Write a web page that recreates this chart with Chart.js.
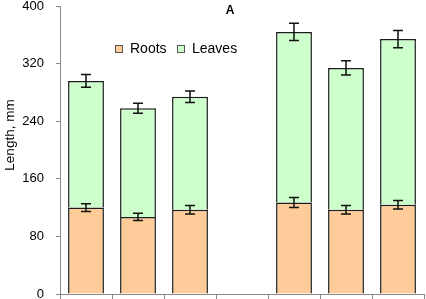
<!DOCTYPE html>
<html>
<head>
<meta charset="utf-8">
<script src="https://cdn.jsdelivr.net/npm/chart.js@4/dist/chart.umd.min.js"></script>
<style>
  html, body { margin: 0; padding: 0; background: #fff; }
  #wrap { width: 426px; height: 299px; }
</style>
</head>
<body>
<div id="wrap"><canvas id="chart"></canvas></div>
<script>
// Data
const groups = ['1', '2', '3', '4', '5', '6', '7'];
const roots = [120, 107, 117, 0, 127, 117, 124];
const leaves = [176, 151, 157, 0, 237, 197, 230];
const rootsErr = [5.5, 5, 6, 0, 7, 6, 6];
const totalErr = [9, 7, 8, 0, 12, 10, 12];
const yTicks = [0, 80, 160, 240, 320, 400];
const yTitle = 'Length, mm';

// Error bars for the top of each stack segment
const errorBars = {
    id: 'errorBars',
    afterDatasetsDraw(chart) {
        const ctx = chart.ctx;
        const y = chart.scales.y;
        ctx.save();
        ctx.strokeStyle = '#111';
        ctx.lineWidth = 1.5;
        chart.data.datasets.forEach((ds, di) => {
            const meta = chart.getDatasetMeta(di);
            meta.data.forEach((bar, i) => {
                const err = ds.errors[i];
                if (!err) return;
                let top = 0;
                for (let k = 0; k <= di; k++) top += chart.data.datasets[k].data[i];
                const yHi = y.getPixelForValue(top + err);
                const yLo = y.getPixelForValue(top - err);
                const x = bar.x;
                ctx.beginPath();
                ctx.moveTo(x, yHi); ctx.lineTo(x, yLo);
                ctx.moveTo(x - 5, yHi); ctx.lineTo(x + 5, yHi);
                ctx.moveTo(x - 5, yLo); ctx.lineTo(x + 5, yLo);
                ctx.stroke();
            });
        });
        ctx.restore();
    }
};

// Title "A", axis title and the legend sit where the original put them
const overlay = {
    id: 'overlay',
    afterDraw(chart) {
        const ctx = chart.ctx;
        ctx.save();
        ctx.fillStyle = '#000';
        ctx.font = 'bold 12px "Liberation Sans", Arial, sans-serif';
        ctx.textAlign = 'center';
        ctx.textBaseline = 'middle';
        ctx.fillText('A', 230, 11);

        ctx.save();
        ctx.translate(10, 135);
        ctx.rotate(-Math.PI / 2);
        ctx.font = '13.5px "Liberation Sans", Arial, sans-serif';
        ctx.fillText(yTitle, 0, 0);
        ctx.restore();

        ctx.font = '14px "Liberation Sans", Arial, sans-serif';
        ctx.textAlign = 'left';
        let x = 115;
        chart.data.datasets.forEach(ds => {
            ctx.fillStyle = ds.backgroundColor;
            ctx.fillRect(x, 45, 7, 7);
            ctx.strokeStyle = '#555';
            ctx.lineWidth = 1;
            ctx.strokeRect(x + 0.5, 45.5, 7, 7);
            ctx.fillStyle = '#000';
            ctx.fillText(ds.label, x + 15, 49);
            x += 62;
        });
        ctx.restore();
    }
};

new Chart(document.getElementById('chart'), {
    type: 'bar',
    data: {
        labels: groups,
        datasets: [
            {
                label: 'Roots',
                data: roots,
                errors: rootsErr,
                backgroundColor: '#FFCC99',
                borderColor: '#1c1c1c',
                borderWidth: 1.5,
                borderSkipped: 'start',
                barPercentage: 0.69,
                categoryPercentage: 1
            },
            {
                label: 'Leaves',
                data: leaves,
                errors: totalErr,
                backgroundColor: '#CCFFCC',
                borderColor: '#1c1c1c',
                borderWidth: 1.5,
                borderSkipped: 'start',
                barPercentage: 0.69,
                categoryPercentage: 1
            }
        ]
    },
    options: {
        responsive: true,
        maintainAspectRatio: false,
        animation: false,
        layout: { padding: { top: 6, right: 2, left: 2, bottom: 0 } },
        plugins: {
            legend: { display: false },
            tooltip: { enabled: false }
        },
        scales: {
            x: {
                stacked: true,
                border: { color: '#888', width: 1 },
                grid: { display: true, drawOnChartArea: false, offset: true, tickLength: 5, color: '#888' },
                ticks: { display: false },
                afterFit(scale) {
                    scale.height = 5;
                    scale.paddingLeft = 0;
                    scale.paddingRight = 0;
                }
            },
            y: {
                stacked: true,
                min: 0,
                max: 400,
                afterBuildTicks(scale) { scale.ticks = yTicks.map(v => ({ value: v })); },
                border: { color: '#888', width: 1 },
                grid: { display: true, drawOnChartArea: false, tickLength: 4, color: '#888' },
                ticks: {
                    padding: 12,
                    color: '#000',
                    font: { family: '"Liberation Sans", Arial, sans-serif', size: 13 }
                },
                title: { display: false },
                afterFit(scale) {
                    scale.width = 58;
                    scale.paddingTop = 0;
                    scale.paddingBottom = 0;
                }
            }
        }
    },
    plugins: [errorBars, overlay]
});
</script>
</body>
</html>
